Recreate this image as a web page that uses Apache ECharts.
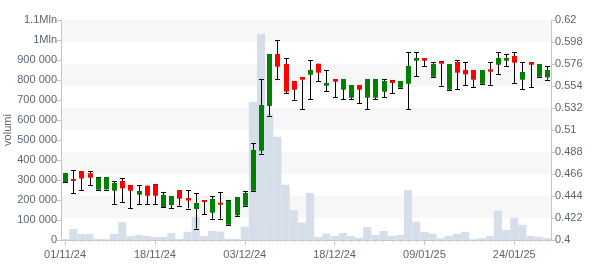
<!DOCTYPE html>
<html>
<head>
<meta charset="utf-8">
<script src="https://cdn.jsdelivr.net/npm/echarts@6/dist/echarts.min.js"></script>
<style>html,body{margin:0;padding:0;background:#fff}#c{width:600px;height:270px}</style>
</head>
<body>
<div id="c"></div>
<script>
const dates = ["01/11/24","04/11/24","05/11/24","06/11/24","07/11/24","08/11/24","11/11/24","12/11/24","13/11/24","14/11/24","15/11/24",
"18/11/24","19/11/24","20/11/24","21/11/24","22/11/24","25/11/24","26/11/24","27/11/24","28/11/24","29/11/24","02/12/24",
"03/12/24","04/12/24","05/12/24","06/12/24","09/12/24","10/12/24","11/12/24","12/12/24","13/12/24","16/12/24","17/12/24",
"18/12/24","19/12/24","20/12/24","23/12/24","27/12/24","30/12/24","02/01/25","03/01/25","06/01/25","07/01/25","08/01/25",
"09/01/25","10/01/25","13/01/25","14/01/25","15/01/25","16/01/25","17/01/25","20/01/25","21/01/25","22/01/25","23/01/25",
"24/01/25","27/01/25","28/01/25","29/01/25","30/01/25"];
const shownDates = ["01/11/24","18/11/24","03/12/24","18/12/24","09/01/25","24/01/25"];
const opens = [0.458,0.4605,0.469,0.4667,0.4503,0.4507,0.4493,0.459,0.455,0.4453,0.4543,0.4557,0.433,0.435,0.450,0.442,0.431,0.440,0.4273,0.4373,
0.4153,0.4247,0.4343,0.4493,0.4893,0.534,0.586,0.576,0.559,0.563,0.5653,0.5763,0.5543,0.561,0.5503,0.5423,0.555,0.5423,0.5423,0.5483,
0.5597,0.5523,0.5563,0.5793,0.582,0.5633,0.5787,0.5503,0.578,0.570,0.570,0.5563,0.5707,0.5753,0.5793,0.584,0.5603,0.578,0.5633,0.5627];
const highs = [0.467,0.470,0.469,0.4687,0.463,0.463,0.459,0.4617,0.455,0.455,0.4543,0.456,0.4477,0.444,0.450,0.4498,0.447,0.440,0.444,0.4477,
0.4397,0.443,0.4487,0.4967,0.561,0.586,0.5997,0.5817,0.559,0.563,0.5797,0.5763,0.5697,0.561,0.561,0.555,0.555,0.561,0.561,0.5607,
0.5597,0.559,0.5877,0.5877,0.582,0.5777,0.5787,0.576,0.5797,0.5777,0.570,0.570,0.5777,0.5877,0.5857,0.5877,0.5777,0.578,0.576,0.5737];
const lows = [0.458,0.447,0.450,0.4547,0.4503,0.4503,0.436,0.438,0.4317,0.436,0.436,0.436,0.4327,0.4317,0.4343,0.4315,0.4115,0.4257,0.4213,0.4213,
0.4153,0.424,0.4343,0.4493,0.4863,0.5243,0.5607,0.5467,0.5403,0.5307,0.5407,0.5587,0.5487,0.5427,0.5407,0.541,0.537,0.5307,0.541,0.5427,
0.5467,0.5523,0.5307,0.5637,0.574,0.5633,0.5543,0.5503,0.5507,0.5547,0.5527,0.5563,0.5547,0.5657,0.5737,0.5567,0.5507,0.5527,0.5633,0.5603];
const closes = [0.467,0.4595,0.4615,0.4623,0.4623,0.463,0.457,0.4517,0.4493,0.449,0.4443,0.4443,0.445,0.444,0.4413,0.4395,0.437,0.438,0.441,0.4353,
0.4393,0.443,0.447,0.490,0.535,0.586,0.5733,0.5483,0.5503,0.5603,0.570,0.5673,0.557,0.5583,0.561,0.555,0.5503,0.561,0.561,0.559,
0.557,0.559,0.574,0.582,0.5793,0.576,0.5763,0.576,0.5673,0.5657,0.5603,0.570,0.5683,0.582,0.582,0.5773,0.568,0.5753,0.576,0.570];
const volumes = [5000,55000,30000,30000,5000,5000,30000,90000,20000,25000,20000,15000,15000,35000,5000,41000,116000,20000,46000,42000,
6000,6000,66000,690000,1030000,630000,516000,276000,150000,87000,235000,16000,31000,20000,35000,20000,11000,65000,25000,45000,
20000,25000,250000,91000,41000,32000,9000,20000,31000,41000,4000,9000,20000,146000,50000,111000,75000,20000,16000,9000];
const volTicks = {min: 0, max: 1100000, step: 100000};
const priceTicks = {min: 0.4, max: 0.62, step: 0.022};

const labelColor = '#5b6572';
const axisColor = '#c6c6c6';
const font = "'Liberation Sans', Arial, sans-serif";
const shown = (i) => shownDates.indexOf(dates[i]) >= 0;

const candleData = dates.map((d, i) => [i, opens[i], closes[i], lows[i], highs[i]]);

const chart = echarts.init(document.getElementById('c'), null, {renderer: 'canvas'});
chart.setOption({
  animation: false,
  backgroundColor: '#ffffff',
  grid: {left: 61, right: 49, top: 20, bottom: 30, containLabel: false, outerBoundsMode: 'none'},
  xAxis: [{
    type: 'category', data: dates, boundaryGap: true,
    axisLine: {lineStyle: {color: axisColor, width: 1}},
    axisTick: {show: true, interval: 0, alignWithLabel: true, length: 2, lineStyle: {color: axisColor}},
    axisLabel: {interval: (i) => shown(i), color: labelColor, fontSize: 11, fontFamily: font, margin: 9},
    splitLine: {show: false}
  }, {
    type: 'category', data: dates, boundaryGap: true, position: 'bottom',
    axisLine: {show: false},
    axisTick: {show: true, interval: (i) => shown(i), alignWithLabel: true, length: 5, lineStyle: {color: axisColor}},
    axisLabel: {show: false},
    splitLine: {show: false}
  }],
  yAxis: [{
    type: 'value', position: 'left', min: volTicks.min, max: volTicks.max, interval: volTicks.step,
    name: 'volumi', nameLocation: 'middle', nameRotate: 90, nameGap: 48, nameMoveOverlap: false,
    nameTextStyle: {color: labelColor, fontSize: 11, fontFamily: font},
    axisLine: {show: true, lineStyle: {color: axisColor}},
    axisTick: {show: true, length: 4, lineStyle: {color: axisColor}},
    axisLabel: {color: labelColor, fontSize: 11, fontFamily: font, margin: 4,
      formatter: (v) => v >= 1e6 ? (Math.round(v / 1e5) / 10) + 'Mln' : String(Math.round(v)).replace(/\B(?=(\d{3})+(?!\d))/g, ' ')},
    splitLine: {show: false}
  }, {
    type: 'value', position: 'right', min: priceTicks.min, max: priceTicks.max, interval: priceTicks.step,
    axisLine: {show: true, lineStyle: {color: axisColor}},
    axisTick: {show: true, length: 4, lineStyle: {color: axisColor}},
    axisLabel: {color: labelColor, fontSize: 11, fontFamily: font, margin: 4,
      formatter: (v) => String(+v.toFixed(3))},
    splitLine: {show: false},
    splitArea: {show: true, areaStyle: {color: ['rgba(255,255,255,0)', '#f7f7f7']}}
  }],
  series: [{
    type: 'bar', name: 'volumi', xAxisIndex: 0, yAxisIndex: 0, data: volumes,
    barCategoryGap: '0%', itemStyle: {color: '#d6dfe9'}, z: 2
  }, {
    type: 'custom', name: 'prezzo', xAxisIndex: 0, yAxisIndex: 1, data: candleData, z: 5,
    encode: {x: 0, y: [1, 2, 3, 4]},
    renderItem: function (params, api) {
      const idx = api.value(0);
      const o = api.value(1), c = api.value(2), l = api.value(3), h = api.value(4);
      const pO = api.coord([idx, o]);
      const pC = api.coord([idx, c]);
      const pL = api.coord([idx, l]);
      const pH = api.coord([idx, h]);
      const x = Math.round(pO[0]) + 0.5;
      const hw = 2.5;
      const up = c >= o;
      let top = Math.min(pO[1], pC[1]);
      let bot = Math.max(pO[1], pC[1]);
      if (bot - top < 2) { const m = (top + bot) / 2; top = m - 1; bot = m + 1; }
      const ls = {stroke: '#000', lineWidth: 1};
      return {
        type: 'group',
        children: [
          {type: 'line', shape: {x1: x, y1: pH[1], x2: x, y2: pL[1]}, style: ls},
          {type: 'line', shape: {x1: x - hw, y1: Math.round(pH[1]) + 0.5, x2: x + hw, y2: Math.round(pH[1]) + 0.5}, style: ls},
          {type: 'line', shape: {x1: x - hw, y1: Math.round(pL[1]) + 0.5, x2: x + hw, y2: Math.round(pL[1]) + 0.5}, style: ls},
          {type: 'rect', shape: {x: x - hw, y: top, width: hw * 2, height: bot - top},
            style: {fill: up ? '#008000' : '#ff0000'}}
        ]
      };
    }
  }]
});
</script>
</body>
</html>
